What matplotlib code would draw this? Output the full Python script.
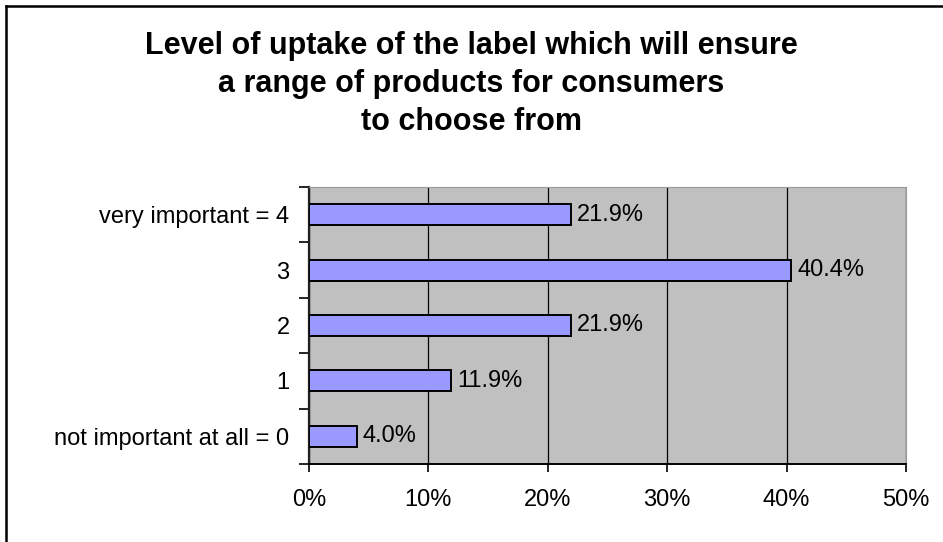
import matplotlib.pyplot as plt
import numpy as np

plt.rcParams['font.family'] = ['Liberation Sans', 'DejaVu Sans']

# survey answers, bottom to top
categories = ["not important at all = 0", "1", "2", "3", "very important = 4"]
shares = [4.0, 11.9, 21.9, 40.4, 21.9]
xticks = [0, 10, 20, 30, 40, 50]

title = ("Level of uptake of the label which will ensure\n"
         "a range of products for consumers\n"
         "to choose from")

fig = plt.figure(figsize=(9.43, 5.42), dpi=100)
ax = fig.add_axes([0.3277, 0.144, 0.6331, 0.511])
ax.set_facecolor("#c0c0c0")

y = np.arange(len(categories))
ax.barh(y, shares, height=0.38, color="#9999ff", edgecolor="black",
        linewidth=1.4, zorder=3)
for yi, v in zip(y, shares):
    ax.text(v + 0.5, yi, f"{v:.1f}%", va="center", ha="left", fontsize=17)

ax.set_xlim(0, 50)
ax.set_ylim(-0.5, len(categories) - 0.5)
ax.set_xticks(xticks)
ax.set_xticklabels([f"{t}%" for t in xticks], fontsize=17)
ax.set_yticks(y)
ax.set_yticklabels(categories, fontsize=17)
ax.set_yticks(np.arange(-0.5, len(categories)), minor=True)
ax.tick_params(axis="y", which="major", length=0, pad=14)
ax.tick_params(axis="y", which="minor", length=7, width=1.2, direction="out")
ax.tick_params(axis="x", length=6, width=1.2, direction="out", pad=12)
ax.xaxis.grid(True, color="black", linewidth=0.9, zorder=1)
ax.set_axisbelow(True)

ax.spines["left"].set_color("#202020")
ax.spines["left"].set_linewidth(1.6)
ax.spines["bottom"].set_color("black")
ax.spines["bottom"].set_linewidth(1.4)
ax.spines["top"].set_color("#9a9a9a")
ax.spines["right"].set_color("#9a9a9a")

fig.text(0.5, 0.942, title, ha="center", va="top", fontsize=22,
         fontweight="bold", linespacing=1.34)

# chart frame along the left and top edges
fig.add_artist(plt.Line2D([0.0065, 0.0065], [0.0, 0.989], color="black",
                          linewidth=1.8, transform=fig.transFigure))
fig.add_artist(plt.Line2D([0.0065, 1.0], [0.989, 0.989], color="black",
                          linewidth=1.8, transform=fig.transFigure))

fig.savefig("out.png", dpi=100)
